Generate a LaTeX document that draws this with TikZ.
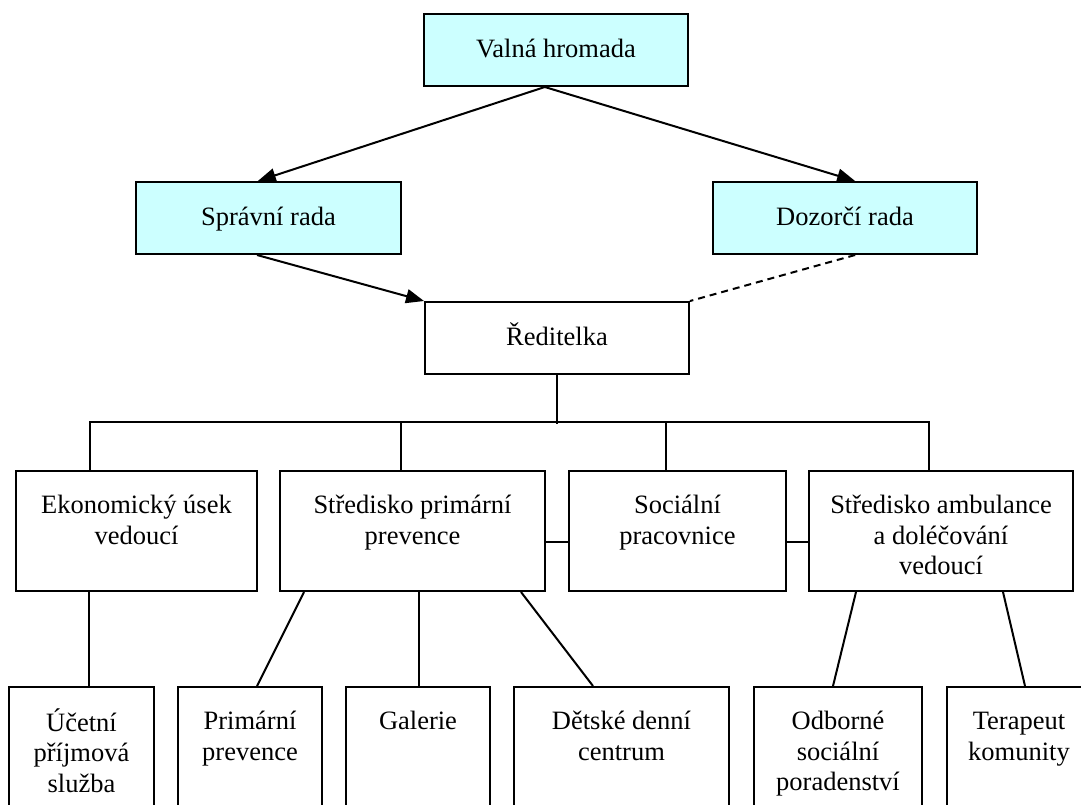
\documentclass[tikz,border=0pt]{standalone}
\usepackage{fontspec}
\setmainfont{Liberation Serif}
\usetikzlibrary{arrows.meta,calc}
\definecolor{boxcyan}{RGB}{204,255,255}
\newcommand\fs{\fontsize{26.5}{30.5}\selectfont}
\newcommand\tb[3]{\parbox[c][#2][t]{#1}{\centering\vspace*{21.5pt}\strut #3\par}}
\begin{document}
\begin{tikzpicture}[x=1pt,y=-1pt,
  box/.style={draw, line width=2pt, inner sep=0pt, font=\fs, fill=white},
  cbox/.style={box, fill=boxcyan, minimum height=72pt, text height=19pt, text depth=5pt},
  wbox/.style={box, minimum height=72pt, text height=19pt, text depth=5pt},
  conn/.style={line width=2pt},
  arr/.style={conn, -{Triangle[length=18pt,width=14pt]}},
  dsh/.style={conn, dash pattern=on 7pt off 5pt}]
\useasboundingbox (0,0) rectangle (1081,804);
\clip (0,0) rectangle (1081,804);
\fill[white] (0,0) rectangle (1081,804);
% top levels
\node[cbox, minimum width=264pt] (valna) at (556,50) {Valná hromada};
\node[cbox, minimum width=265pt] (spravni) at (268.5,218) {Správní rada};
\node[cbox, minimum width=264pt] (dozorci) at (845,218) {Dozorčí rada};
\node[wbox, minimum width=264pt] (reditelka) at (557,338) {Ředitelka};
% middle row
\node[box] (ekon) at (136.5,531) {\tb{241pt}{120pt}{Ekonomický úsek\\vedoucí}};
\node[box] (primarni) at (412.5,531) {\tb{265pt}{120pt}{Středisko primární\\prevence}};
\node[box] (socialni) at (677.5,531) {\tb{217pt}{120pt}{Sociální\\pracovnice}};
\node[box] (ambul) at (941,531) {\tb{264pt}{120pt}{Středisko ambulance\\a doléčování\\vedoucí}};
% bottom row
\node[box] (ucetni) at (81.5,757) {\tb{145pt}{140pt}{Účetní\\příjmová\\služba}};
\node[box] (prim) at (250,757) {\tb{144pt}{140pt}{Primární\\prevence}};
\node[box] (galerie) at (418,757) {\tb{144pt}{140pt}{Galerie}};
\node[box] (detske) at (621.5,757) {\tb{215pt}{140pt}{Dětské denní\\centrum}};
\node[box] (odborne) at (838,757) {\tb{168pt}{140pt}{Odborné\\sociální\\poradenství}};
\node[box] (terapeut) at (1019,757) {\tb{144pt}{140pt}{Terapeut\\komunity}};
% connectors
\draw[arr] ($(valna.south west)!0.458!(valna.south east)$) -- ($(spravni.north west)!0.46!(spravni.north east)$);
\draw[arr] ($(valna.south west)!0.458!(valna.south east)$) -- ($(dozorci.north west)!0.538!(dozorci.north east)$);
\draw[arr] ($(spravni.south west)!0.457!(spravni.south east)$) -- (reditelka.north west);
\draw[dsh] ($(dozorci.south west)!0.538!(dozorci.south east)$) -- (reditelka.north east);
\draw[conn] (reditelka.south) -- ++(0,49);
\draw[conn] ([xshift=-46.5pt]ekon.north) -- ++(0,-48) -| ([xshift=-12pt]ambul.north);
\draw[conn] ([xshift=-12pt]primarni.north) -- ++(0,-48);
\draw[conn] ([xshift=-12pt]socialni.north) -- ++(0,-48);
\draw[conn] ([yshift=-11pt]primarni.east) -- ([yshift=-11pt]socialni.west);
\draw[conn] ([yshift=-11pt]socialni.east) -- ([yshift=-11pt]ambul.west);
\draw[conn] ([xshift=-47.5pt]ekon.south) -- ([xshift=-47.5pt]ekon.south |- ucetni.north);
\draw[conn] ([xshift=25pt]primarni.south west) -- ([xshift=7pt]prim.north);
\draw[conn] ([xshift=6.5pt]primarni.south) -- ([xshift=6.5pt]primarni.south |- galerie.north);
\draw[conn] ([xshift=-25pt]primarni.south east) -- ([xshift=80pt]detske.north west);
\draw[conn] ([xshift=48pt]ambul.south west) -- ([xshift=-5pt]odborne.north);
\draw[conn] ([xshift=-71pt]ambul.south east) -- ([xshift=6pt]terapeut.north);
\end{tikzpicture}
\end{document}
